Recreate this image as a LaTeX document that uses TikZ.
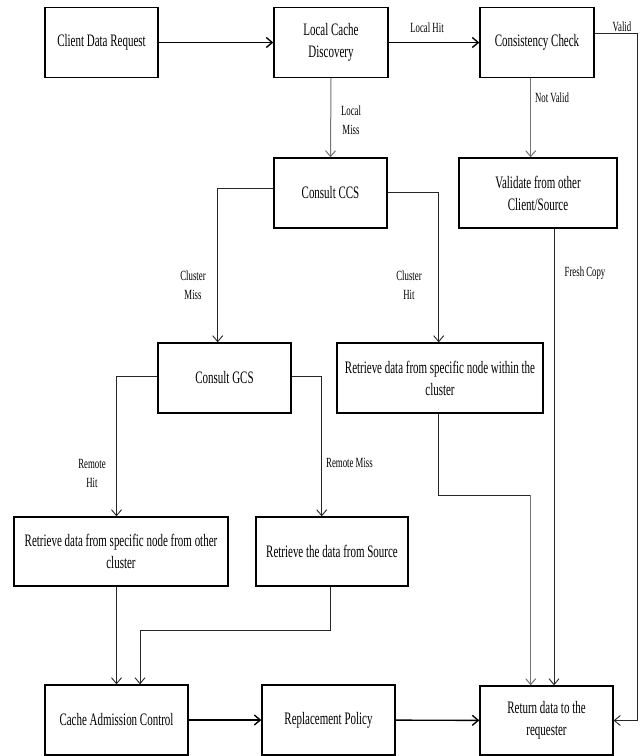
\documentclass[tikz,border=0pt]{standalone}
\usepackage{fontspec}
\setmainfont{Liberation Serif}[FakeStretch=0.627]
\usetikzlibrary{arrows.meta}
\begin{document}
\begin{tikzpicture}[x=1pt,y=-1pt,
  box/.style={draw=black,line width=1.3pt,rectangle,minimum height=70pt,inner sep=2pt,align=center,font=\fontsize{17.5}{22}\selectfont},
  lbl/.style={font=\fontsize{14}{19}\selectfont,align=center,inner sep=0pt},
  thick arrow/.style={draw=black,line width=1.4pt,-{Straight Barb[length=6pt,width=10pt]}},
  thin arrow/.style={draw=black!85,line width=0.9pt,-{Straight Barb[length=6pt,width=10pt]}},
  gray arrow/.style={draw=black!55,line width=1pt,-{Straight Barb[length=6pt,width=10pt]}},
  thin line/.style={draw=black!85,line width=0.9pt},
]
\useasboundingbox (0,0) rectangle (641,756);

% boxes
\node[box,minimum width=113pt] (req) at (101.5,42.5) {Client Data Request};
\node[box,minimum width=114pt] (lcd) at (331,42.5) {Local Cache\\Discovery};
\node[box,minimum width=114pt] (cc) at (537,42.5) {Consistency Check};
\node[box,minimum width=113pt] (ccs) at (330.5,193) {Consult CCS};
\node[box,minimum width=158pt] (val) at (538,193) {Validate from other\\Client/Source};
\node[box,minimum width=133pt] (gcs) at (224.5,378) {Consult GCS};
\node[box,minimum width=206pt] (rwc) at (440,378) {Retrieve data from specific node within the\\cluster};
\node[box,minimum width=214pt,minimum height=69pt] (roc) at (121,551.5) {Retrieve data from specific node from other\\cluster};
\node[box,minimum width=152pt,minimum height=69pt] (rsrc) at (332,551.5) {Retrieve the data from Source};
\node[box,minimum width=143pt] (cac) at (116.5,720) {Cache Admission Control};
\node[box,minimum width=133pt] (rp) at (328.5,720) {Replacement Policy};
\node[box,minimum width=133pt,minimum height=69pt] (ret) at (546.5,720.5) {Return data to the\\requester};

% helper coordinates
\coordinate (vtop) at (637,33);
\coordinate (nv) at (530.7,0);
\coordinate (cm) at (217.7,188);
\coordinate (ch) at (438.7,192);
\coordinate (rh) at (116.5,376);
\coordinate (rm) at (321.7,376);
\coordinate (rw1) at (438.7,495);
\coordinate (rw2) at (530.7,495);
\coordinate (fc) at (554,0);
\coordinate (rs1) at (330,630);
\coordinate (rs2) at (140,630);

% connectors
\draw[thick arrow] (req) -- (lcd);
\draw[thick arrow] (lcd) -- (cc);
\node[lbl] (lhit) at (427,28) {Local Hit};
\draw[thin arrow] (cc.east |- vtop) -- (vtop) |- (ret.east);
\node[lbl] (lvalid) at (622,27) {Valid};
\draw[gray arrow] (lcd.south) -- (ccs.north);
\node[lbl] (lmiss) at (351,120) {Local\\Miss};
\draw[gray arrow] (cc.south -| nv) -- (val.north -| nv);
\node[lbl] (lnv) at (552,98) {Not Valid};
\draw[thin arrow] (ccs.west |- cm) -- (cm) -- (cm |- gcs.north);
\node[lbl] (lcm) at (193,285) {Cluster\\Miss};
\draw[thin arrow] (ccs.east |- ch) -- (ch) -- (ch |- rwc.north);
\node[lbl] (lch) at (409,285) {Cluster\\Hit};
\draw[thin arrow] (gcs.west |- rh) -- (rh) -- (rh |- roc.north);
\node[lbl] (lrh) at (92,473) {Remote\\Hit};
\draw[thin arrow] (gcs.east |- rm) -- (rm) -- (rm |- rsrc.north);
\node[lbl] (lrm) at (349.5,463) {Remote Miss};
\draw[thin line] (rwc.south -| rw1) -- (rw1) -- (rw2);
\draw[gray arrow] (rw2) -- (rw2 |- ret.north);
\draw[thin arrow] (val.south -| fc) -- (ret.north -| fc);
\node[lbl] (lfc) at (585,273) {Fresh Copy};
\draw[thin arrow] (roc.south -| rh) -- (cac.north -| rh);
\draw[thin arrow] (rsrc.south -| rs1) -- (rs1) -- (rs2) -- (rs2 |- cac.north);
\draw[thick arrow] (cac) -- (rp);
\draw[thick arrow] (rp) -- (ret);
\end{tikzpicture}
\end{document}
